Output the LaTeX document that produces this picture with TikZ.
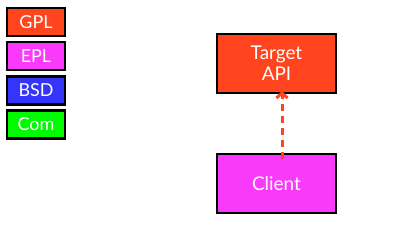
\documentclass[tikz,border=0pt]{standalone}
\usepackage{fontspec}
\setmainfont{Lato}
\usetikzlibrary{arrows.meta}
\definecolor{gplc}{RGB}{255,68,30}
\definecolor{eplc}{RGB}{250,58,250}
\definecolor{bsdc}{RGB}{52,52,250}
\definecolor{comc}{RGB}{0,250,0}
\begin{document}
\begin{tikzpicture}[x=1bp,y=-1bp,
  legbox/.style={draw=black,line width=2.5bp,minimum width=58bp,minimum height=28bp,inner sep=0pt,text=white,font=\fontsize{18}{20}\selectfont},
  mainbox/.style={draw=black,line width=2bp,minimum width=119bp,minimum height=59bp,inner sep=0pt,text=white,align=center,font=\fontsize{19}{21}\selectfont},
  dep/.style={draw=gplc,line width=3bp,dash pattern=on 7bp off 5bp,-{Straight Barb[length=5bp,width=11bp,line width=3bp]}}]
\useasboundingbox (0,0) rectangle (396,240);
\node[legbox,fill=gplc] (gpl) at (36,22) {GPL};
\node[legbox,fill=eplc] (epl) at (36,56) {EPL};
\node[legbox,fill=bsdc] (bsd) at (36,90.5) {BSD};
\node[legbox,fill=comc] (com) at (36,124.5) {Com};
\node[mainbox,fill=gplc] (api) at (276.5,63.5) {Target\\API};
\node[mainbox,fill=eplc] (client) at (276.5,183.5) {Client};
\draw[dep] ([xshift=5.5bp]client.north) ++(0,-6bp) coordinate (s) -- ([xshift=5.5bp,yshift=3bp]api.south);
\end{tikzpicture}
\end{document}
